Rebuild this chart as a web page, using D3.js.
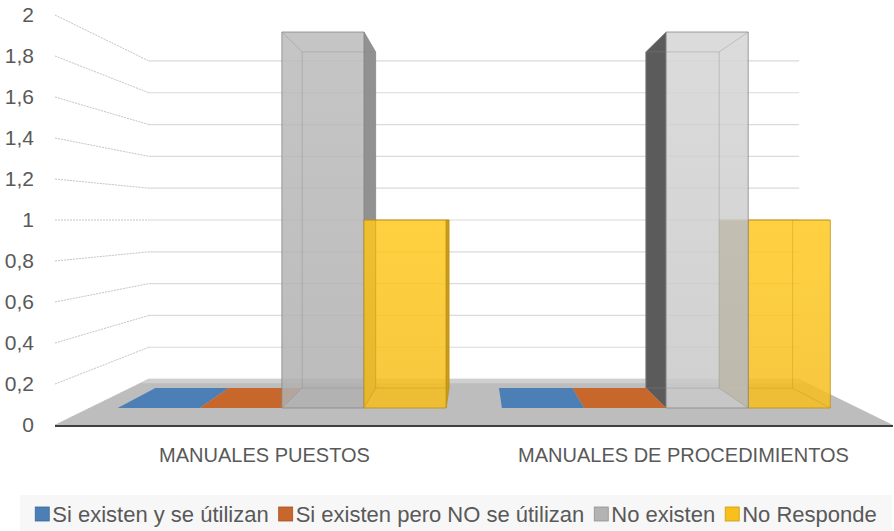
<!DOCTYPE html>
<html>
<head>
<meta charset="utf-8">
<script src="https://cdn.jsdelivr.net/npm/d3@7"></script>
<style>
  html, body { margin: 0; padding: 0; background: #ffffff; }
  svg { display: block; }
  text { font-family: 'Liberation Sans Narrow', 'Arial Narrow', 'Liberation Sans', sans-serif; fill: #595959; }
</style>
</head>
<body>
<svg id="chart" width="894" height="531"></svg>
<script>
// ---------------- DATA ----------------
const categories = ["MANUALES PUESTOS", "MANUALES DE PROCEDIMIENTOS"];
const seriesNames = ["Si existen y se útilizan", "Si existen pero NO se útilizan", "No existen", "No Responde"];
const siExistenUtilizan = [0, 0];
const siExistenNoUtilizan = [0, 0];
const noExisten = [2, 2];
const noResponde = [1, 1];
const yTicks = [0, 0.2, 0.4, 0.6, 0.8, 1, 1.2, 1.4, 1.6, 1.8, 2];
const seriesColors = ["#4b7fb6", "#c8672c", "#b3b3b3", "#f9c01c"];

const seriesValues = [siExistenUtilizan, siExistenNoUtilizan, noExisten, noResponde];

// ---------------- LAYOUT ----------------
const svg = d3.select("#chart");
const x0 = d3.scaleBand().domain(categories).range([55, 893]);
const x1 = d3.scaleBand().domain(seriesNames).range([0, x0.bandwidth()]).paddingInner(0).paddingOuter(0.34);
const y = d3.scaleLinear().domain([0, 2]).range([425, 15]);

// simple one-point perspective: k=1 is the front plane
const cx = 474, cy = 220;
const kWallBack = 0.776, kBarFront = 0.917, kBarBack = 0.82;
const proj = (X, Y, k) => [cx + (X - cx) * k, cy + (Y - cy) * k];
const poly = pts => "M" + pts.map(p => p.join(",")).join("L") + "Z";

const locale = d3.formatLocale({ decimal: ",", thousands: ".", grouping: [3], currency: ["", ""] });
const fmt = locale.format("~g");

const defs = svg.append("defs");

// ---------------- WALL GRIDLINES ----------------
const grid = svg.append("g");
yTicks.forEach(v => {
  const yf = y(v);
  const a = proj(55, yf, kWallBack), b = proj(893, yf, kWallBack);
  grid.append("line").attr("x1", 55).attr("y1", yf).attr("x2", a[0]).attr("y2", a[1])
    .attr("stroke", "#c4c4c4").attr("stroke-width", 1).attr("stroke-dasharray", "2,1");
  grid.append("line").attr("x1", a[0]).attr("y1", a[1]).attr("x2", b[0]).attr("y2", b[1])
    .attr("stroke", "#dadada").attr("stroke-width", 1.2);
});

// ---------------- FLOOR ----------------
const floorPts = [[55, y(0)], [893, y(0)], proj(893, y(0), kWallBack), proj(55, y(0), kWallBack)];
svg.append("path").attr("d", poly(floorPts)).attr("fill", "#bdbdbd");
svg.append("path").attr("d", poly([proj(55, y(0), kWallBack), proj(893, y(0), kWallBack),
  proj(893, y(0), kWallBack + 0.02), proj(55, y(0), kWallBack + 0.02)]))
  .attr("fill", "#cfcfcf");
svg.append("line").attr("x1", 55).attr("x2", 893).attr("y1", y(0) + 1).attr("y2", y(0) + 1)
  .attr("stroke", "#3f3f3f").attr("stroke-width", 2);

// ---------------- BARS ----------------
const bars = [];
categories.forEach((c, ci) => {
  seriesNames.forEach((s, si) => {
    const xl = x0(c) + x1(s), xr = xl + x1.bandwidth();
    bars.push({ c, s, si, v: seriesValues[si][ci], xl, xr, mid: (xl + xr) / 2 });
  });
});
bars.sort((a, b) => Math.abs(b.mid - cx) - Math.abs(a.mid - cx));

const gBars = svg.append("g");
bars.forEach((b, i) => {
  const base = d3.hsl(seriesColors[b.si]);
  const rightOfCentre = b.mid > cx;
  const front = d3.hsl(base.h, base.s, Math.min(1, base.l + (rightOfCentre ? 0.1 * (1 - base.s) : 0)));
  const side = d3.color(seriesColors[b.si]).darker(rightOfCentre ? 1.9 : 0.6);
  const edge = d3.color(seriesColors[b.si]).darker(0.8);
  const yb = y(0), yt = y(b.v);
  const F = (X, Y) => proj(X, Y, kBarFront);
  const B = (X, Y) => proj(X, Y, kBarBack);

  if (b.v === 0) {
    gBars.append("path").attr("d", poly([F(b.xl, yb), F(b.xr, yb), B(b.xr, yb), B(b.xl, yb)]))
      .attr("fill", seriesColors[b.si]);
    return;
  }
  if (b.xr < cx) {
    gBars.append("path").attr("d", poly([F(b.xr, yt), B(b.xr, yt), B(b.xr, yb), F(b.xr, yb)]))
      .attr("fill", side).attr("stroke", edge).attr("stroke-width", 0.6);
  }
  if (b.xl > cx) {
    gBars.append("path").attr("d", poly([F(b.xl, yt), B(b.xl, yt), B(b.xl, yb), F(b.xl, yb)]))
      .attr("fill", side).attr("stroke", edge).attr("stroke-width", 0.6);
  }
  if (yt > cy) {
    gBars.append("path").attr("d", poly([F(b.xl, yt), F(b.xr, yt), B(b.xr, yt), B(b.xl, yt)]))
      .attr("fill", d3.color(seriesColors[b.si]).brighter(0.3));
  }
  const gid = "g" + i;
  const lgr = defs.append("linearGradient").attr("id", gid).attr("x1", 0).attr("y1", 0).attr("x2", 0).attr("y2", 1);
  lgr.append("stop").attr("offset", "0%").attr("stop-color", d3.color(front).brighter(0.12));
  lgr.append("stop").attr("offset", "100%").attr("stop-color", d3.color(front).darker(0.05));
  gBars.append("path").attr("d", poly([F(b.xl, yt), F(b.xr, yt), F(b.xr, yb), F(b.xl, yb)]))
    .attr("fill", `url(#${gid})`).attr("fill-opacity", 0.85)
    .attr("stroke", edge).attr("stroke-width", 0.8);
  const hidden = [
    [B(b.xl, yt), B(b.xr, yt)], [B(b.xl, yt), B(b.xl, yb)], [B(b.xr, yt), B(b.xr, yb)],
    [F(b.xl, yt), B(b.xl, yt)], [F(b.xr, yt), B(b.xr, yt)],
    [F(b.xl, yb), B(b.xl, yb)], [F(b.xr, yb), B(b.xr, yb)], [B(b.xl, yb), B(b.xr, yb)]
  ];
  hidden.forEach(([p, q]) => gBars.append("line")
    .attr("x1", p[0]).attr("y1", p[1]).attr("x2", q[0]).attr("y2", q[1])
    .attr("stroke", edge).attr("stroke-opacity", 0.45).attr("stroke-width", 0.8));
});

// ---------------- Y AXIS LABELS ----------------
svg.append("g").selectAll("text").data(yTicks).join("text")
  .attr("x", 34).attr("y", d => y(d)).attr("dy", "0.35em")
  .attr("text-anchor", "end").attr("font-size", 21).text(d => fmt(d));

// ---------------- CATEGORY LABELS ----------------
svg.append("g").selectAll("text").data(categories).join("text")
  .attr("x", d => x0(d) + x0.bandwidth() / 2).attr("y", 462)
  .attr("text-anchor", "middle").attr("font-size", 20).text(d => d);

// ---------------- LEGEND ----------------
svg.append("rect").attr("x", 20).attr("y", 495).attr("width", 872).attr("height", 36).attr("fill", "#f7f7f7");
const lg = svg.append("g");
const items = seriesNames.map((s, i) => {
  const g = lg.append("g");
  g.append("rect").attr("width", 14).attr("height", 14).attr("y", -7)
    .attr("fill", seriesColors[i]).attr("stroke", d3.color(seriesColors[i]).darker(0.6)).attr("stroke-width", 0.8);
  const t = g.append("text").attr("x", 17).attr("dy", "0.35em").attr("font-size", 22).text(s);
  return { g, w: 17 + t.node().getComputedTextLength() };
});
const gap = 10;
const total = d3.sum(items, d => d.w) + gap * (items.length - 1);
let lx = 456 - total / 2;
items.forEach(it => { it.g.attr("transform", `translate(${lx},514)`); lx += it.w + gap; });
</script>
</body>
</html>
